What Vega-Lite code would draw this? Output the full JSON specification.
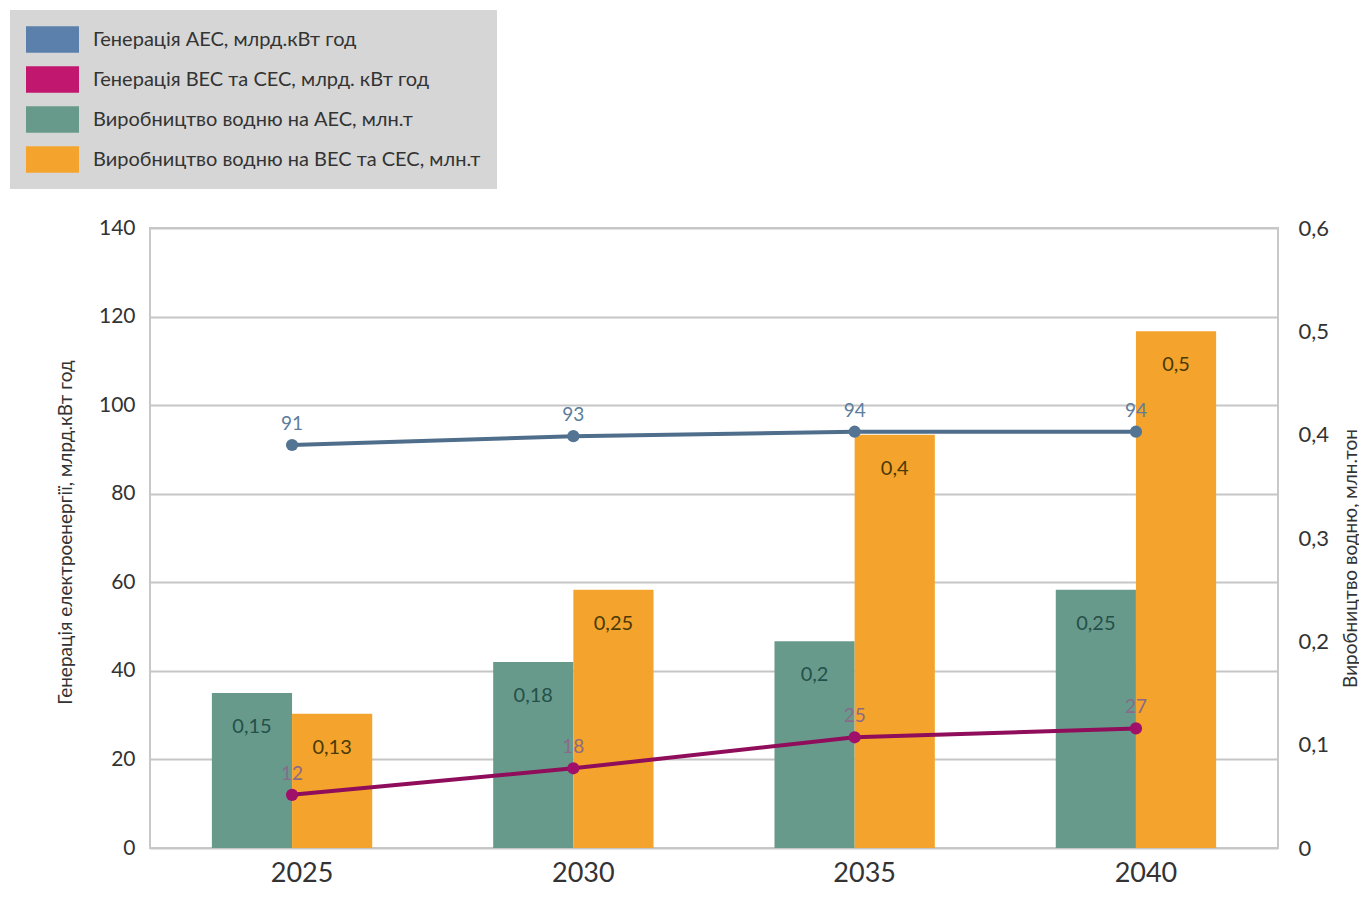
{
  "$schema": "https://vega.github.io/schema/vega-lite/v6.json",
  "width": 1128,
  "height": 620,
  "autosize": {"type": "none"},
  "padding": {"left": 150, "top": 228, "right": 81, "bottom": 69},
  "background": "white",
  "config": {
    "font": "Lato",
    "view": {"stroke": "#c8c8c8", "strokeWidth": 2},
    "locale": {"number": {"decimal": ",", "thousands": " ", "grouping": [3], "currency": ["", ""]}},
    "text": {"font": "Lato"}
  },
  "datasets": {
    "gen": [
      {"year": "2025", "series": "Генерація АЕС, млрд.кВт год", "value": 91},
      {"year": "2030", "series": "Генерація АЕС, млрд.кВт год", "value": 93},
      {"year": "2035", "series": "Генерація АЕС, млрд.кВт год", "value": 94},
      {"year": "2040", "series": "Генерація АЕС, млрд.кВт год", "value": 94},
      {"year": "2025", "series": "Генерація ВЕС та СЕС, млрд. кВт год", "value": 12},
      {"year": "2030", "series": "Генерація ВЕС та СЕС, млрд. кВт год", "value": 18},
      {"year": "2035", "series": "Генерація ВЕС та СЕС, млрд. кВт год", "value": 25},
      {"year": "2040", "series": "Генерація ВЕС та СЕС, млрд. кВт год", "value": 27}
    ],
    "h2": [
      {"year": "2025", "series": "Виробництво водню на АЕС, млн.т", "value": 0.15},
      {"year": "2025", "series": "Виробництво водню на ВЕС та СЕС, млн.т", "value": 0.13},
      {"year": "2030", "series": "Виробництво водню на АЕС, млн.т", "value": 0.18},
      {"year": "2030", "series": "Виробництво водню на ВЕС та СЕС, млн.т", "value": 0.25},
      {"year": "2035", "series": "Виробництво водню на АЕС, млн.т", "value": 0.2},
      {"year": "2035", "series": "Виробництво водню на ВЕС та СЕС, млн.т", "value": 0.4},
      {"year": "2040", "series": "Виробництво водню на АЕС, млн.т", "value": 0.25},
      {"year": "2040", "series": "Виробництво водню на ВЕС та СЕС, млн.т", "value": 0.5}
    ]
  },
  "layer": [
    {
      "data": {"name": "h2"},
      "layer": [
        {
          "mark": {"type": "bar"},
          "encoding": {
            "x": {
              "field": "year", "type": "nominal",
              "scale": {"paddingInner": 0.43, "paddingOuter": 0.22},
              "axis": {"title": null, "domain": false, "ticks": false, "labelAngle": 0, "labelFontSize": 27, "labelColor": "#333333", "labelPadding": 12, "labelOffset": 10, "labelFont": "Lato"}
            },
            "xOffset": {"field": "series", "type": "nominal", "scale": {"paddingInner": 0}},
            "y": {
              "field": "value", "type": "quantitative",
              "scale": {"domain": [0, 0.6], "nice": false},
              "axis": {"orient": "right", "values": [0, 0.1, 0.2, 0.3, 0.4, 0.5, 0.6], "format": "~g", "grid": false, "domain": false, "ticks": false, "labelPadding": 20, "labelFontSize": 22, "labelColor": "#333333", "title": "Виробництво водню, млн.тон", "titleAngle": 270, "titleX": 72, "titleY": 330, "titleAlign": "center", "titleBaseline": "middle", "titleFontSize": 19, "titleFontWeight": "normal", "titleColor": "#333333"}
            },
            "color": {
              "field": "series", "type": "nominal",
              "scale": {
                "domain": ["Генерація АЕС, млрд.кВт год", "Генерація ВЕС та СЕС, млрд. кВт год", "Виробництво водню на АЕС, млн.т", "Виробництво водню на ВЕС та СЕС, млн.т"],
                "range": ["#5a80ab", "#c2176f", "#689a8c", "#f4a42c"]
              },
              "legend": {"orient": "none", "legendX": -140, "legendY": -218, "title": null, "symbolType": "M-2,-1H2V1H-2Z", "symbolSize": 702, "symbolStrokeWidth": 0, "symbolOffset": 13, "labelFontSize": 20, "labelColor": "#333333", "fillColor": "#d6d6d6", "padding": 16, "rowPadding": 13, "labelOffset": 27, "labelLimit": 600}
            }
          }
        },
        {
          "mark": {"type": "text", "baseline": "middle", "dy": 34, "fontSize": 20},
          "encoding": {
            "x": {"field": "year", "type": "nominal"},
            "xOffset": {"field": "series", "type": "nominal"},
            "y": {"field": "value", "type": "quantitative", "scale": {"domain": [0, 0.6], "nice": false}, "axis": {"orient": "right", "values": [0, 0.1, 0.2, 0.3, 0.4, 0.5, 0.6], "format": "~g", "grid": false, "domain": false, "ticks": false, "labelPadding": 20, "labelFontSize": 22, "labelColor": "#333333", "title": "Виробництво водню, млн.тон", "titleAngle": 270, "titleX": 72, "titleY": 330, "titleAlign": "center", "titleBaseline": "middle", "titleFontSize": 19, "titleFontWeight": "normal", "titleColor": "#333333"}},
            "text": {"field": "value", "type": "quantitative", "format": "~g"},
            "color": {"condition": {"test": "datum.series === 'Виробництво водню на АЕС, млн.т'", "value": "#24504a"}, "value": "#4a3a05"}
          }
        }
      ]
    },
    {
      "data": {"name": "gen"},
      "layer": [
        {
          "mark": {"type": "line", "strokeWidth": 4},
          "encoding": {
            "x": {"field": "year", "type": "nominal"},
            "y": {"field": "value", "type": "quantitative", "scale": {"domain": [0, 140], "nice": false}, "axis": {"orient": "left", "values": [0, 20, 40, 60, 80, 100, 120, 140], "grid": true, "gridColor": "#c6c6c6", "gridWidth": 2, "domain": false, "ticks": false, "labelPadding": 15, "labelFontSize": 21, "labelColor": "#333333", "title": "Генерація електроенергії, млрд.кВт год", "titleAngle": 270, "titleX": -85, "titleY": 304, "titleAlign": "center", "titleBaseline": "middle", "titleFontSize": 19, "titleFontWeight": "normal", "titleColor": "#333333"}},
            "stroke": {"field": "series", "type": "nominal", "scale": {"domain": ["Генерація АЕС, млрд.кВт год", "Генерація ВЕС та СЕС, млрд. кВт год"], "range": ["#4f6e8c", "#8f0d5a"]}, "legend": null}
          }
        },
        {
          "mark": {"type": "circle", "size": 150, "opacity": 1},
          "encoding": {
            "x": {"field": "year", "type": "nominal"},
            "y": {"field": "value", "type": "quantitative", "scale": {"domain": [0, 140], "nice": false}, "axis": {"orient": "left", "values": [0, 20, 40, 60, 80, 100, 120, 140], "grid": true, "gridColor": "#c6c6c6", "gridWidth": 2, "domain": false, "ticks": false, "labelPadding": 15, "labelFontSize": 21, "labelColor": "#333333", "title": "Генерація електроенергії, млрд.кВт год", "titleAngle": 270, "titleX": -85, "titleY": 304, "titleAlign": "center", "titleBaseline": "middle", "titleFontSize": 19, "titleFontWeight": "normal", "titleColor": "#333333"}},
            "fill": {"field": "series", "type": "nominal", "scale": {"domain": ["Генерація АЕС, млрд.кВт год", "Генерація ВЕС та СЕС, млрд. кВт год"], "range": ["#547494", "#a0106a"]}, "legend": null}
          }
        },
        {
          "mark": {"type": "text", "baseline": "middle", "dy": -21, "fontSize": 19},
          "encoding": {
            "x": {"field": "year", "type": "nominal"},
            "y": {"field": "value", "type": "quantitative", "scale": {"domain": [0, 140], "nice": false}, "axis": {"orient": "left", "values": [0, 20, 40, 60, 80, 100, 120, 140], "grid": true, "gridColor": "#c6c6c6", "gridWidth": 2, "domain": false, "ticks": false, "labelPadding": 15, "labelFontSize": 21, "labelColor": "#333333", "title": "Генерація електроенергії, млрд.кВт год", "titleAngle": 270, "titleX": -85, "titleY": 304, "titleAlign": "center", "titleBaseline": "middle", "titleFontSize": 19, "titleFontWeight": "normal", "titleColor": "#333333"}},
            "text": {"field": "value", "type": "quantitative"},
            "color": {"condition": {"test": "datum.series === 'Генерація АЕС, млрд.кВт год'", "value": "#5d7d9c"}, "value": "#8a6a88"}
          }
        }
      ]
    }
  ],
  "resolve": {"scale": {"y": "independent", "fill": "independent", "stroke": "independent"}}
}
